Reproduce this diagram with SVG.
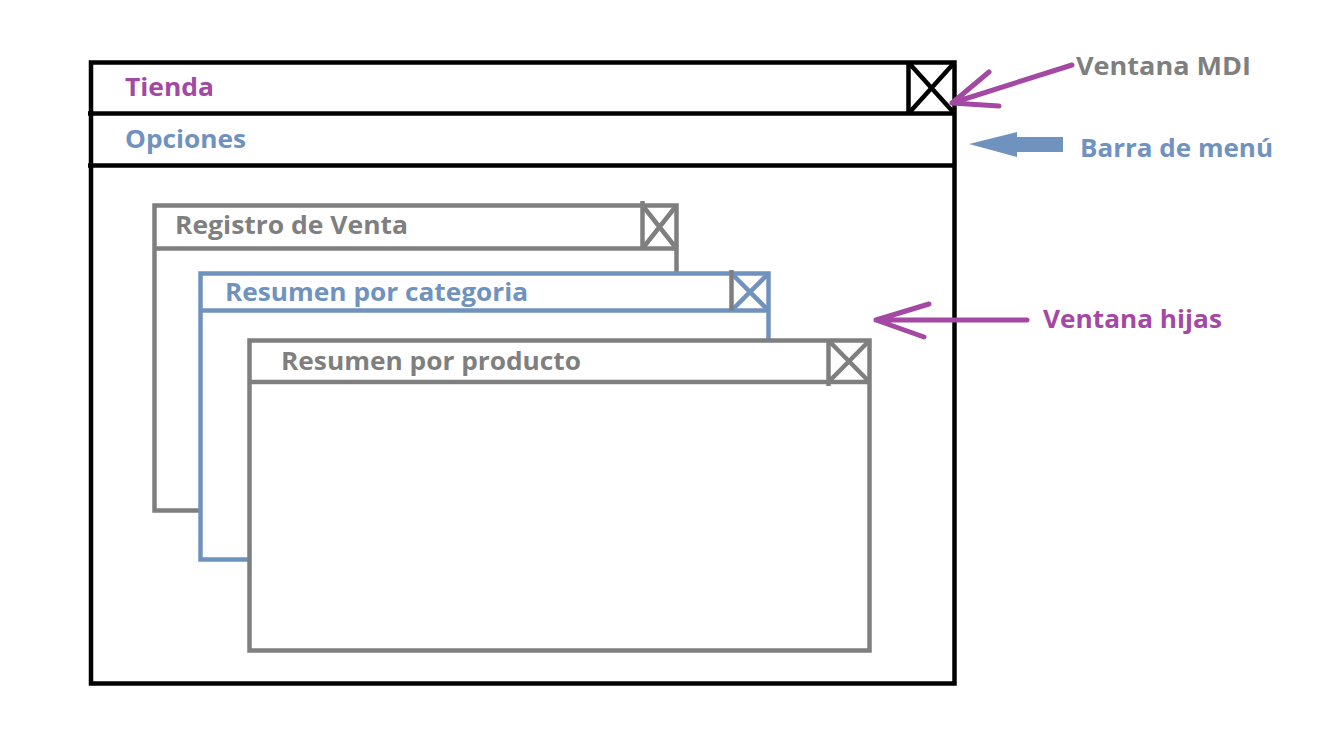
<svg xmlns="http://www.w3.org/2000/svg" width="1322" height="734" viewBox="0 0 1322 734">
<style>
.t{font-family:"Open Sans","Liberation Sans",sans-serif;font-weight:700;font-size:25px}
.blk{fill:#fff;stroke:#000;stroke-width:4.5}
.gry{fill:#fff;stroke:#7f7f7f;stroke-width:4.5}
.blu{fill:#fff;stroke:#7092be;stroke-width:4.5}
.lk{stroke:#000;stroke-width:4.5;fill:none}
.lg{stroke:#7f7f7f;stroke-width:4.5;fill:none}
.lb{stroke:#7092be;stroke-width:4.5;fill:none}
.pur{stroke:#a349a4;stroke-width:5;fill:none;stroke-linecap:round;stroke-linejoin:round}
</style>
<rect width="1322" height="734" fill="#fff"/>
<g id="mdi">
<rect class="blk" x="91" y="62.5" width="863.5" height="621"/>
<line class="lk" x1="88" y1="113.5" x2="954.5" y2="113.5"/>
<line class="lk" x1="88" y1="165.5" x2="954.5" y2="165.5"/>
<line class="lk" x1="908.5" y1="62.5" x2="908.5" y2="113.5"/>
<path class="lk" d="M908.5,62.5 L954.5,113.5 M954.5,62.5 L908.5,113.5"/>
<text class="t" x="125" y="96" fill="#a349a4" textLength="89" lengthAdjust="spacingAndGlyphs">Tienda</text>
<text class="t" x="125" y="148" fill="#7092be" textLength="121" lengthAdjust="spacingAndGlyphs">Opciones</text>
</g>
<g id="registro">
<rect class="gry" x="154.5" y="205.5" width="522" height="305"/>
<line class="lg" x1="154.5" y1="248.5" x2="676.5" y2="248.5"/>
<line class="lg" x1="642.5" y1="201" x2="642.5" y2="248.5"/>
<path class="lg" d="M642.5,205.5 L676.5,248.5 M676.5,205.5 L642.5,248.5"/>
<text class="t" x="175" y="234" fill="#7f7f7f" textLength="233" lengthAdjust="spacingAndGlyphs">Registro de Venta</text>
</g>
<g id="categoria">
<rect class="blu" x="200.5" y="273.5" width="568" height="286"/>
<line class="lb" x1="200.5" y1="310.5" x2="768.5" y2="310.5"/>
<path class="lb" d="M731.5,273.5 L768.5,310.5 M768.5,273.5 L731.5,310.5"/>
<line class="lg" x1="731.5" y1="270" x2="731.5" y2="310.5"/>
<text class="t" x="225" y="301" fill="#7092be" textLength="303" lengthAdjust="spacingAndGlyphs">Resumen por categoria</text>
</g>
<g id="producto">
<rect class="gry" x="249.5" y="340.5" width="620" height="310"/>
<line class="lg" x1="249.5" y1="382" x2="869.5" y2="382"/>
<line class="lg" x1="828.5" y1="340.5" x2="828.5" y2="386"/>
<path class="lg" d="M828.5,340.5 L869.5,382 M869.5,340.5 L828.5,382"/>
<text class="t" x="281" y="370" fill="#7f7f7f" textLength="300" lengthAdjust="spacingAndGlyphs">Resumen por producto</text>
</g>
<g id="connectors">
<path class="pur" d="M1072,65 L952,103 M989,72 L952,103 L999,106"/>
<polygon points="969,144 1017,132 1017,137 1063,137 1063,152 1017,152 1017,157" fill="#7092be"/>
<path class="pur" d="M1027,320 L876,320 M929,304 L876,320 L924,337"/>
</g>
<g id="labels">
<text class="t" x="1076" y="75" fill="#7f7f7f" textLength="175" lengthAdjust="spacingAndGlyphs">Ventana MDI</text>
<text class="t" x="1080" y="157" fill="#7092be" textLength="193" lengthAdjust="spacingAndGlyphs">Barra de menú</text>
<text class="t" x="1043" y="328" fill="#a349a4" textLength="179" lengthAdjust="spacingAndGlyphs">Ventana hijas</text>
</g>
</svg>
